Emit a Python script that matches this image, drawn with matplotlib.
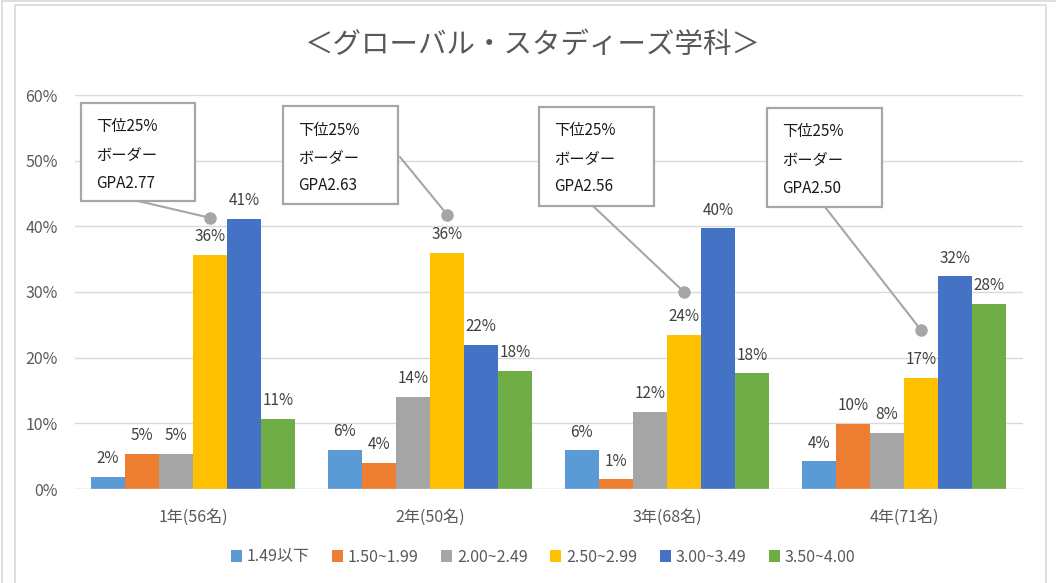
import matplotlib
matplotlib.use("Agg")
import matplotlib.pyplot as plt
import numpy as np
from matplotlib.patches import Rectangle, Patch

plt.rcParams['font.family'] = ['Noto Sans CJK JP', 'DejaVu Sans']

# data (percent of students per GPA band)
years = ["1年(56名)", "2年(50名)", "3年(68名)", "4年(71名)"]
bands = ["1.49以下", "1.50~1.99", "2.00~2.49", "2.50~2.99", "3.00~3.49", "3.50~4.00"]
pct_149 = [1.8, 6.0, 5.9, 4.2]
pct_150 = [5.4, 4.0, 1.47, 9.9]
pct_200 = [5.4, 14.0, 11.8, 8.5]
pct_250 = [35.7, 36.0, 23.5, 16.9]
pct_300 = [41.1, 22.0, 39.7, 32.4]
pct_350 = [10.7, 18.0, 17.6, 28.2]
colors = ["#5B9BD5", "#ED7D31", "#A5A5A5", "#FFC000", "#4472C4", "#70AD47"]

# callouts: lower 25% border GPA per year
border_gpa = ["2.77", "2.63", "2.56", "2.50"]
callout_y = [41.3, 41.8, 30.0, 24.2]

W, H = 1056, 583
fig = plt.figure(figsize=(W / 100, H / 100), dpi=100)
ax = fig.add_axes([74.5 / W, 1 - 489 / H, 948 / W, 394 / H])

def px(x, y):
    return x / W, 1 - y / H

series = [pct_149, pct_150, pct_200, pct_250, pct_300, pct_350]
x = np.arange(len(years))
bw = 0.144
for i, (vals, c) in enumerate(zip(series, colors)):
    xs = x + (i - 2.5) * bw
    ax.bar(xs, vals, bw, color=c, zorder=3)
    for xi, v in zip(xs, vals):
        ax.annotate(f"{v:.0f}%", (xi, v), xytext=(0, 7), textcoords="offset points",
                    ha="center", va="bottom", fontsize=11, color="#404040")

ax.set_xlim(-0.5, 3.5)
ax.set_ylim(0, 60)
ax.set_yticks(range(0, 61, 10))
ax.set_yticklabels([f"{t}%" for t in range(0, 61, 10)])
ax.set_xticks(x)
ax.set_xticklabels(years)
ax.tick_params(axis="both", length=0, labelsize=11.5, labelcolor="#595959")
ax.tick_params(axis="x", pad=14)
ax.tick_params(axis="y", pad=12)
ax.grid(axis="y", color="#D9D9D9", lw=1, zorder=0)
for s in ax.spines.values():
    s.set_visible(False)
ax.axhline(0, color="#D9D9D9", lw=1, zorder=4)

# callout boxes (pixel layout) and leader lines
boxes = [(81, 103, 195, 201), (283, 106, 398, 204), (539, 107, 654, 206), (767, 108, 882, 207)]
anchors = [(138, 201), (400, 157), (593, 206), (825, 207)]
for k, ((x0, y0, x1, y1), (ax0, ay0)) in enumerate(zip(boxes, anchors)):
    fx0, fy1 = px(x0, y1)
    fx1, fy0 = px(x1, y0)
    fig.patches.append(Rectangle((fx0, fy1), fx1 - fx0, fy0 - fy1, transform=fig.transFigure,
                                 facecolor="white", edgecolor="#A6A6A6", lw=1.6, zorder=5))
    lines = ["下位25%", "ボーダー", f"GPA{border_gpa[k]}"]
    for j, t in enumerate(lines):
        fig.text(*px(x0 + 15, y0 + 24 + j * 28), t, fontsize=11, color="#1a1a1a",
                 va="center", ha="left", zorder=6)
    dx = x[k] + 0.5 * bw
    ax.annotate("", xy=(dx, callout_y[k]), xycoords="data",
                xytext=px(ax0, ay0), textcoords="figure fraction",
                arrowprops=dict(arrowstyle="-", color="#A6A6A6", lw=1.5,
                                shrinkA=0, shrinkB=0), zorder=4)
    ax.plot(dx, callout_y[k], "o", color="#A6A6A6", ms=8, zorder=6, clip_on=False)

fig.text(*px(532, 45), "＜グローバル・スタディーズ学科＞", fontsize=20.5, color="#595959",
         ha="center", va="center")

handles = [Patch(facecolor=c) for c in colors]
fig.legend(handles, bands, loc="center", bbox_to_anchor=px(543, 557), ncol=6, frameon=False,
           fontsize=11.5, labelcolor="#595959", handlelength=0.7, handleheight=0.7,
           handletextpad=0.3, columnspacing=1.4)

# chart frame
fig.patches.append(Rectangle(px(15, 600), (1046 - 15) / W, (600 - 5) / H,
                             transform=fig.transFigure, fill=False, edgecolor="#D9D9D9", lw=1.2))
fig.patches.append(Rectangle(px(2, 600), 1.2, (600 - 1) / H,
                             transform=fig.transFigure, fill=False, edgecolor="#D9D9D9", lw=1.2))

fig.savefig("out.png", dpi=100)
